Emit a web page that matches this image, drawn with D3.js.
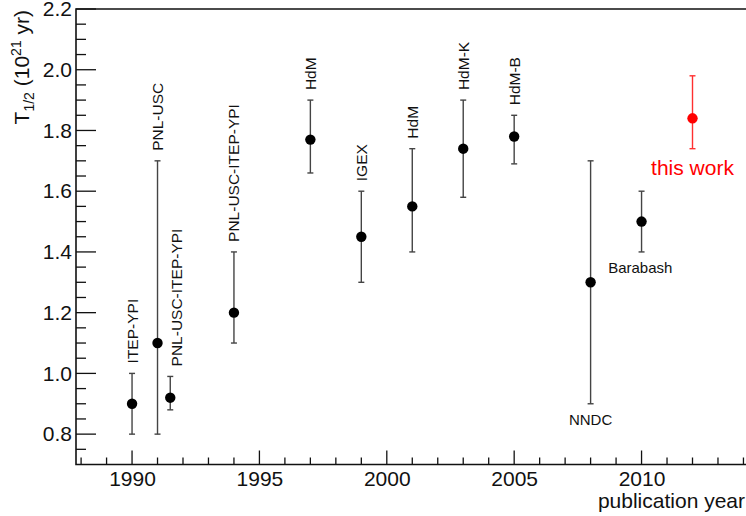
<!DOCTYPE html>
<html>
<head>
<meta charset="utf-8">
<script src="https://cdn.jsdelivr.net/npm/d3@7"></script>
<style>
  body { margin: 0; background: #fff; }
  svg { display: block; font-family: "Liberation Sans", Arial, sans-serif; }
</style>
</head>
<body>
<div id="viz"></div>
<script>
// measurements, half-life in 10^21 yr
const labels = ['ITEP-YPI', 'PNL-USC', 'PNL-USC-ITEP-YPI', 'PNL-USC-ITEP-YPI', 'HdM', 'IGEX', 'HdM', 'HdM-K', 'HdM-B', 'NNDC', 'Barabash', 'this work'];
const years = [1990, 1991, 1991.5, 1994, 1997, 1999, 2001, 2003, 2005, 2008, 2010, 2012];
const values = [0.90, 1.10, 0.92, 1.20, 1.77, 1.45, 1.55, 1.74, 1.78, 1.30, 1.50, 1.84];
const errLow = [0.80, 0.80, 0.88, 1.10, 1.66, 1.30, 1.40, 1.58, 1.69, 0.90, 1.40, 1.74];
const errHigh = [1.00, 1.70, 0.99, 1.40, 1.90, 1.60, 1.74, 1.90, 1.85, 1.70, 1.60, 1.98];
// where each label sits: 'up' = rotated above the bar, 'below' = horizontal under the bar
const labelKind = ['up', 'up', 'up', 'up', 'up', 'up', 'up', 'up', 'up', 'below', 'below', 'below'];
const labelYear = [1990, 1991, 1991.75, 1994, 1997, 1999, 2001, 2003, 2005, 2008, 2009.95, 2012];

const yMajor = [0.8, 1.0, 1.2, 1.4, 1.6, 1.8, 2.0, 2.2];
const xMajor = [1990, 1995, 2000, 2005, 2010];

const width = 746, height = 516;
const svg = d3.select('#viz').append('svg')
  .attr('width', width)
  .attr('height', height);

const x = d3.scaleLinear().domain([1987.8, 2014.1]).range([76, 746]);
const y = d3.scaleLinear().domain([0.7, 2.2]).range([464.5, 9]);

const data = labels.map((l, i) => ({
  label: l, year: years[i], v: values[i], lo: errLow[i], hi: errHigh[i],
  kind: labelKind[i], ly: labelYear[i], red: l === 'this work'
}));

// axes, ROOT style ticks pointing inward
const axisColor = '#111';
const yAxis = d3.axisLeft(y).tickValues(yMajor).tickSize(0).tickPadding(0)
  .tickFormat(d3.format('.1f'));
const yg = svg.append('g').attr('transform', `translate(${x.range()[0]},0)`).call(yAxis);
yg.select('.domain').remove();
yg.selectAll('text').attr('x', -4).attr('font-size', 21).attr('fill', '#111')
  .attr('font-family', '"Liberation Sans", Arial, sans-serif');

const xAxis = d3.axisBottom(x).tickValues(xMajor).tickSize(0).tickPadding(0)
  .tickFormat(d3.format('d'));
const xg = svg.append('g').attr('transform', `translate(0,${y.range()[0]})`).call(xAxis);
xg.select('.domain').remove();
xg.selectAll('text').attr('y', 7).attr('font-size', 21).attr('fill', '#111')
  .attr('font-family', '"Liberation Sans", Arial, sans-serif');

const ticks = svg.append('g').attr('stroke', axisColor).attr('stroke-width', 1.3);
const yMinor = d3.range(0.75, 2.2001, 0.05);
ticks.selectAll('.yt').data(yMinor).join('line')
  .attr('x1', x.range()[0])
  .attr('x2', d => x.range()[0] + (Math.abs(d * 5 - Math.round(d * 5)) < 1e-6 ? 20 : 10))
  .attr('y1', d => y(d)).attr('y2', d => y(d));
const xMinor = d3.range(1988, 2015, 1);
ticks.selectAll('.xt').data(xMinor).join('line')
  .attr('x1', d => x(d)).attr('x2', d => x(d))
  .attr('y1', y.range()[0])
  .attr('y2', d => y.range()[0] - (d % 5 === 0 ? 14 : 7));

// frame: left, bottom, top
svg.append('path')
  .attr('d', `M${width},${y.range()[1]}H${x.range()[0]}V${y.range()[0]}H${width}`)
  .attr('fill', 'none').attr('stroke', axisColor).attr('stroke-width', 1.6);

// axis titles
svg.append('text')
  .attr('x', width - 1).attr('y', 508)
  .attr('text-anchor', 'end').attr('font-size', 21).attr('fill', '#111')
  .text('publication year');

const yt = svg.append('text')
  .attr('transform', 'translate(29,10) rotate(-90)')
  .attr('text-anchor', 'end').attr('font-size', 21).attr('fill', '#111');
yt.append('tspan').text('T');
yt.append('tspan').attr('font-size', 14).attr('dy', 5).text('1/2');
yt.append('tspan').attr('dy', -5).text(' (10');
yt.append('tspan').attr('font-size', 14).attr('dy', -8).text('21');
yt.append('tspan').attr('dy', 8).text(' yr)');

// error bars
const eb = svg.append('g');
const pts = eb.selectAll('g.pt').data(data).join('g').attr('class', 'pt');
pts.append('line')
  .attr('x1', d => x(d.year)).attr('x2', d => x(d.year))
  .attr('y1', d => y(d.lo)).attr('y2', d => y(d.hi))
  .attr('stroke', d => d.red ? '#ff3030' : '#444').attr('stroke-width', 1.4);
pts.selectAll('line.cap').data(d => [[d, d.lo], [d, d.hi]]).join('line')
  .attr('class', 'cap')
  .attr('x1', ([d]) => x(d.year) - 3).attr('x2', ([d]) => x(d.year) + 3)
  .attr('y1', ([, v]) => y(v)).attr('y2', ([, v]) => y(v))
  .attr('stroke', ([d]) => d.red ? '#ff3030' : '#444').attr('stroke-width', 1.4);
pts.append('circle')
  .attr('cx', d => x(d.year)).attr('cy', d => y(d.v)).attr('r', 5.2)
  .attr('fill', d => d.red ? '#ff0000' : '#000');

// labels
const lab = svg.append('g');
lab.selectAll('text.up').data(data.filter(d => d.kind === 'up')).join('text')
  .attr('class', 'up')
  .attr('transform', d => `translate(${x(d.ly) + 5.5},${y(d.hi) - 10}) rotate(-90)`)
  .attr('font-size', 15.5).attr('fill', '#111')
  .text(d => d.label);
lab.selectAll('text.below').data(data.filter(d => d.kind === 'below')).join('text')
  .attr('class', 'below')
  .attr('x', d => x(d.ly))
  .attr('y', d => y(d.lo) + (d.red ? 26 : 21.5))
  .attr('text-anchor', 'middle')
  .attr('font-size', d => d.red ? 21 : 15)
  .attr('fill', d => d.red ? '#ff0000' : '#111')
  .text(d => d.label);
</script>
</body>
</html>
